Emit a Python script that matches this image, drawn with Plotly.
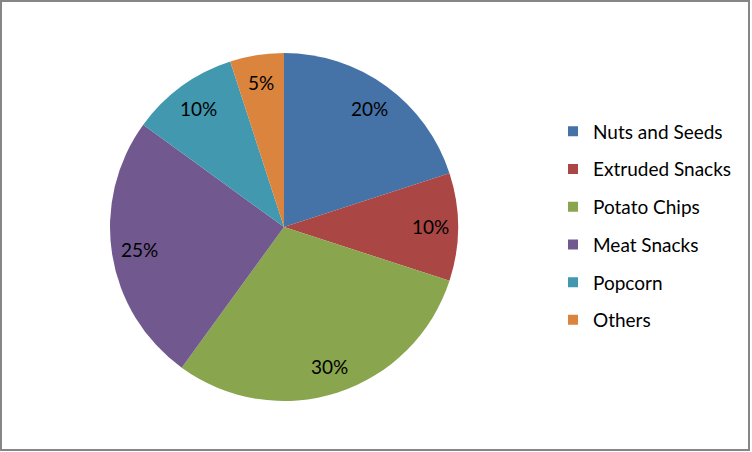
import math
import plotly.graph_objects as go

categories = ["Nuts and Seeds", "Extruded Snacks", "Potato Chips", "Meat Snacks", "Popcorn", "Others"]
shares = [20, 10, 30, 25, 10, 5]
colors = ["#4572A7", "#AA4643", "#89A54E", "#71588F", "#4198AF", "#DB843D"]

W, H = 752, 452
font = "Lato, Calibri, Carlito, sans-serif"

# pie geometry in pixels
cx, cy, R = 284, 227, 174

fig = go.Figure()
fig.add_trace(
    go.Pie(
        labels=categories,
        values=shares,
        sort=False,
        direction="clockwise",
        rotation=0,
        marker=dict(colors=colors, line=dict(width=0)),
        textinfo="none",
        domain=dict(x=[(cx - R) / W, (cx + R) / W], y=[(H - cy - R) / H, (H - cy + R) / H]),
        showlegend=False,
        hoverinfo="label+percent",
    )
)

# percentage labels placed like Excel's, near the outer part of each slice
total = sum(shares)
annotations = []
start = 0.0
for v in shares:
    mid = (start + v / 2) / total * 2 * math.pi
    start += v
    px = cx + 0.84 * R * math.sin(mid)
    py = cy - 0.84 * R * math.cos(mid)
    annotations.append(
        dict(
            x=px / W,
            y=1 - py / H,
            xref="paper",
            yref="paper",
            xanchor="center",
            yanchor="middle",
            text=f"{round(v / total * 100)}%",
            showarrow=False,
            font=dict(family=font, size=19, color="#000000"),
        )
    )

# legend entries as dummy square markers so the row spacing can be widened
for i, (cat, col) in enumerate(zip(categories, colors)):
    fig.add_trace(
        go.Scatter(
            x=[None],
            y=[None],
            mode="markers",
            name=cat,
            legendgroup=f"g{i}",
            marker=dict(symbol="square", size=10, color=col),
        )
    )

fig.update_layout(
    width=W,
    height=H,
    margin=dict(l=0, r=0, t=0, b=0),
    paper_bgcolor="white",
    plot_bgcolor="white",
    xaxis=dict(visible=False),
    yaxis=dict(visible=False),
    annotations=annotations,
    legend=dict(
        x=553 / W,
        y=0.5,
        xanchor="left",
        yanchor="middle",
        traceorder="grouped",
        tracegroupgap=10,
        itemwidth=30,
        font=dict(family=font, size=19, color="#000000"),
        bgcolor="rgba(0,0,0,0)",
    ),
    shapes=[
        dict(
            type="rect",
            xref="paper",
            yref="paper",
            x0=1 / W,
            x1=749 / W,
            y0=(H - 450) / H,
            y1=(H - 1) / H,
            line=dict(color="#868686", width=2),
        )
    ],
)

fig.write_html(
    "out.html",
    config={"displayModeBar": False},
    post_script="document.body.style.margin='0';",
)
